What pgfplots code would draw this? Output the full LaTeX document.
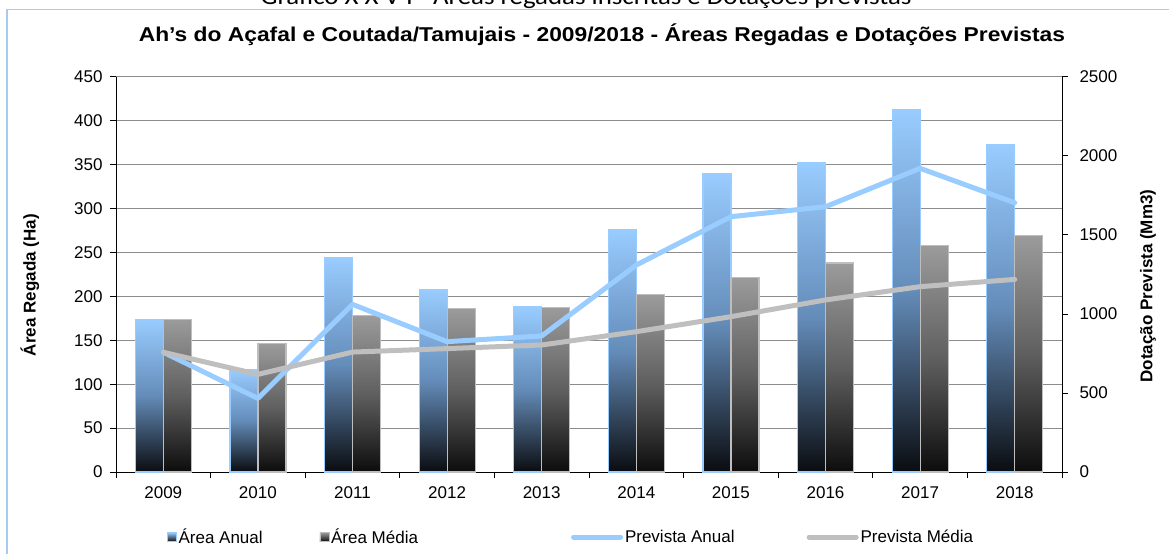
\documentclass[border=0pt]{standalone}
\usepackage{fontspec}
\setmainfont{Liberation Sans}
\newfontfamily\capfont{Carlito}
\usepackage{pgfplots}
\pgfplotsset{compat=1.18}

\definecolor{anual}{RGB}{153,204,255}
\definecolor{anualmid}{RGB}{100,140,185}
\definecolor{anualbot}{RGB}{10,12,16}
\definecolor{media}{RGB}{155,155,155}
\definecolor{mediamid}{RGB}{95,95,95}
\definecolor{mediabot}{RGB}{12,12,12}
\definecolor{mediaedge}{RGB}{190,190,190}
\definecolor{linemedia}{RGB}{191,191,191}
\definecolor{framec}{RGB}{166,202,240}
\definecolor{gridc}{RGB}{140,140,140}

\newcommand{\fs}{\fontsize{17}{20}\selectfont}

\pgfplotsset{
  anualbar/.style={ybar, bar width=28pt, bar shift=-14pt, draw=anual, line width=1.2pt,
    top color=anual, bottom color=anualbot, middle color=anualmid, forget plot},
  mediabar/.style={ybar, bar width=28pt, bar shift=14pt, draw=mediaedge, line width=1.2pt,
    top color=media, bottom color=mediabot, middle color=mediamid, forget plot},
  linelegend/.style={legend image code/.code={\draw[##1, line cap=round] (0pt,0pt) -- (47pt,0pt);}},
  common/.style={
    scale only axis, width=946pt, height=395pt,
    at={(116pt,82pt)}, anchor=south west,
    xmin=-0.5, xmax=9.5, ymin=0,
    tick label style={font=\fs, black},
    /pgf/number format/assume math mode=true,
    /pgf/number format/1000 sep={},
    scaled y ticks=false,
    tick align=outside, major tick length=6pt,
    axis line style={black, line width=1pt, -},
    tick style={black, line width=1pt},
  },
}

\begin{document}
\begin{tikzpicture}
\useasboundingbox (0pt,0pt) rectangle (1169pt,554pt);
\draw[framec, line width=1.2pt] (7pt,0pt) -- (7pt,544.5pt) -- (1169pt,544.5pt);
\node[anchor=base, xscale=1.12, font=\capfont\fontsize{24}{26}\selectfont] at (586pt,549pt)
  {Gráfico X X V I - Áreas regadas inscritas e Dotações previstas};
\node[anchor=base, xscale=1.14, font=\bfseries\fontsize{20}{22}\selectfont] at (602pt,512pt)
  {Ah\char"0027 s do Açafal e Coutada/Tamujais - 2009/2018 - Áreas Regadas e Dotações Previstas};

% left axis: areas (bars)
\begin{axis}[common,
  ymax=450, ytick={0,50,...,450},
  axis x line*=bottom, axis y line*=left,
  xtick={-0.5,0.5,...,9.5},
  xticklabels={2009,2010,2011,2012,2013,2014,2015,2016,2017,2018},
  x tick label as interval,
  xticklabel style={yshift=-5pt},
  yticklabel style={xshift=-4pt},
  ymajorgrids, grid style={gridc, line width=1pt},
  ylabel={Área Regada (Ha)},
  ylabel style={font=\bfseries\fs, at={(axis description cs:-0.0909,0.473)}, anchor=center},
]
% one plot per bar so that each bar gets its own gradient
\addplot[anualbar] coordinates {(0,174)};
\addplot[mediabar] coordinates {(0,174)};
\addplot[anualbar] coordinates {(1,117)};
\addplot[mediabar] coordinates {(1,146)};
\addplot[anualbar] coordinates {(2,244)};
\addplot[mediabar] coordinates {(2,178)};
\addplot[anualbar] coordinates {(3,208)};
\addplot[mediabar] coordinates {(3,186)};
\addplot[anualbar] coordinates {(4,188)};
\addplot[mediabar] coordinates {(4,187)};
\addplot[anualbar] coordinates {(5,276)};
\addplot[mediabar] coordinates {(5,202)};
\addplot[anualbar] coordinates {(6,340)};
\addplot[mediabar] coordinates {(6,222)};
\addplot[anualbar] coordinates {(7,352)};
\addplot[mediabar] coordinates {(7,238)};
\addplot[anualbar] coordinates {(8,413)};
\addplot[mediabar] coordinates {(8,258)};
\addplot[anualbar] coordinates {(9,373)};
\addplot[mediabar] coordinates {(9,269)};
\end{axis}

% right axis: dotacoes (lines)
\begin{axis}[common,
  ymax=2500, ytick={0,500,...,2500},
  axis y line*=right, axis x line=none,
  yticklabel style={xshift=8pt},
  ylabel={Dotação Prevista (Mm3)},
  ylabel style={font=\bfseries\fs, at={(axis description cs:1.0909,0.471)}, anchor=center},
  legend columns=4,
  legend style={draw=none, fill=none, font=\fs, inner sep=0pt,
    at={(axis description cs:0.0539,-0.1646)}, anchor=west,
    /tikz/column 2/.style={column sep=55pt},
    /tikz/column 4/.style={column sep=151pt},
    /tikz/column 6/.style={column sep=70pt}},
  legend cell align=left,
]
\addlegendimage{legend image code/.code={\path[top color=anual, bottom color=anualbot, draw=anual] (0pt,-4.5pt) rectangle (9pt,4.5pt);}}
\addlegendentry{Área Anual}
\addlegendimage{legend image code/.code={\path[top color=media, bottom color=mediabot, draw=mediaedge] (0pt,-4.5pt) rectangle (9pt,4.5pt);}}
\addlegendentry{Área Média}
\addplot[anual, line width=5pt, line join=round, line cap=round, linelegend]
  coordinates {(0,758) (1,466) (2,1061) (3,825) (4,861) (5,1310) (6,1616) (7,1679) (8,1922) (9,1704)};
\addlegendentry{Prevista Anual}
\addplot[linemedia, line width=5pt, line join=round, line cap=round, linelegend]
  coordinates {(0,758) (1,618) (2,759) (3,781) (4,804) (5,888) (6,983) (7,1089) (8,1173) (9,1219)};
\addlegendentry{Prevista Média}
\end{axis}
\end{tikzpicture}
\end{document}
